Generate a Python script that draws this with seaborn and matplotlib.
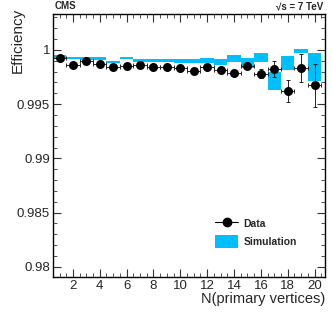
import matplotlib
matplotlib.use('Agg')
import matplotlib.pyplot as plt
import seaborn as sns
import pandas as pd
from matplotlib.lines import Line2D
from matplotlib.patches import Patch
from matplotlib.ticker import MultipleLocator

# number of primary vertices (bin centres)
n_vtx = list(range(1, 21))

# data efficiency and its error
data_eff = [0.99925, 0.99864, 0.99901, 0.99873, 0.99842, 0.99851, 0.99858, 0.99840, 0.99846, 0.99833,
            0.99803, 0.99842, 0.99815, 0.99789, 0.99855, 0.99782, 0.99824, 0.99619, 0.99833, 0.99672]
data_err = [0.00008, 0.00008, 0.00008, 0.00008, 0.00009, 0.00009, 0.0001, 0.0001, 0.00011, 0.00012,
            0.00013, 0.00015, 0.00017, 0.0002, 0.00035, 0.00037, 0.0007, 0.001, 0.0013, 0.002]

# simulation efficiency (band centre) and half-width of the band
sim_eff = [0.99938, 0.99924, 0.99921, 0.99921, 0.99891, 0.99924, 0.99901, 0.99901, 0.99899, 0.99899,
           0.99897, 0.99904, 0.99891, 0.99920, 0.99879, 0.99929, 0.99713, 0.99879, 0.99988, 0.99842]
sim_err = [0.00011, 0.00011, 0.0001, 0.0001, 0.0001, 0.00011, 0.00011, 0.00012, 0.00014, 0.0002,
           0.0002, 0.00023, 0.00027, 0.00034, 0.00046, 0.00044, 0.0008, 0.00064, 0.00017, 0.0013]

df = pd.DataFrame({'nvtx': n_vtx, 'eff': data_eff, 'err': data_err,
                   'sim': sim_eff, 'sim_err': sim_err})

sns.set_style('ticks')
plt.rcParams['font.family'] = ['Liberation Sans', 'DejaVu Sans']

fig = plt.figure(figsize=(3.32, 3.19), dpi=100)
ax = fig.add_axes([0.159, 0.131, 0.821, 0.825])

cyan = '#00bfff'
# simulation band: one box per bin
ax.bar(df['nvtx'], 2 * df['sim_err'], bottom=df['sim'] - df['sim_err'], width=1.0,
       color=cyan, edgecolor='none', zorder=1)

# data with error bars
ax.errorbar(df['nvtx'], df['eff'], xerr=0.5, yerr=df['err'], fmt='none',
            ecolor='#222222', elinewidth=0.7, capsize=1.2, capthick=0.7, zorder=2)
sns.scatterplot(data=df, x='nvtx', y='eff', ax=ax, color='black', s=42,
                edgecolor='black', linewidth=0, zorder=3, legend=False)

ax.set_xlim(0.5, 20.8)
ax.set_ylim(0.97905, 1.0033)
ax.xaxis.set_major_locator(MultipleLocator(2))
ax.xaxis.set_minor_locator(MultipleLocator(0.5))
ax.yaxis.set_major_locator(MultipleLocator(0.005))
ax.yaxis.set_minor_locator(MultipleLocator(0.001))
ax.set_yticks([0.98, 0.985, 0.99, 0.995, 1.0])
ax.set_yticklabels(['0.98', '0.985', '0.99', '0.995', '1'])
ax.tick_params(which='both', direction='in', top=True, right=True, labelsize=9.5,
               color='#333333', pad=2)
ax.tick_params(which='major', length=6, width=0.8)
ax.tick_params(which='minor', length=3, width=0.6)
for s in ax.spines.values():
    s.set_linewidth(1.0)
    s.set_color('black')

ax.set_xlabel('N(primary vertices)', fontsize=10.5, loc='right', labelpad=0)
ax.set_ylabel('Efficiency', fontsize=11, loc='top')
ax.yaxis.set_label_coords(-0.103, 1.022)

fig.text(0.165, 0.965, 'CMS', fontsize=7, fontweight='bold', ha='left', va='bottom')
fig.text(0.975, 0.965, '\u221as = 7 TeV', fontsize=7, fontweight='bold', ha='right', va='bottom')

handles = [Line2D([0], [0], color='black', marker='o', markersize=6, lw=0.8),
           Patch(facecolor=cyan, edgecolor='none')]
ax.legend(handles, ['Data', 'Simulation'], loc='lower right', bbox_to_anchor=(0.93, 0.075),
          frameon=False, prop={'weight': 'bold', 'size': 7.5}, handlelength=2.2,
          handleheight=1.5, labelspacing=0.5, handletextpad=0.5)

fig.savefig('out.png', dpi=100)
